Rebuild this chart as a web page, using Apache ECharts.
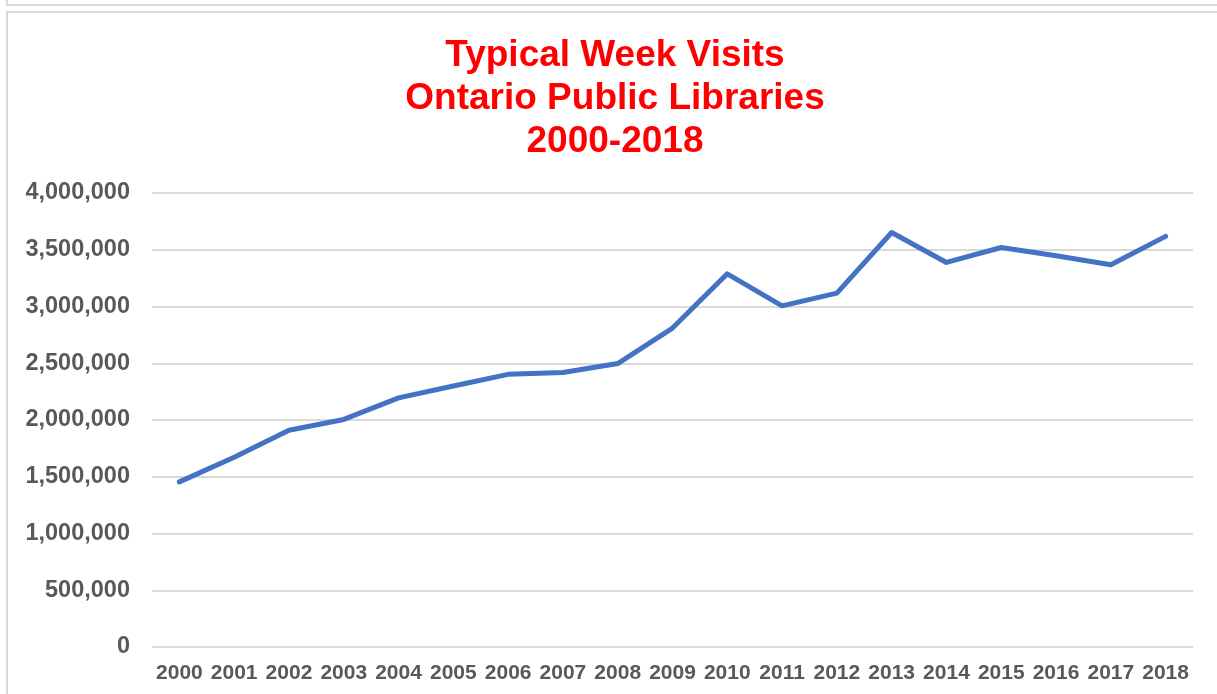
<!DOCTYPE html>
<html>
<head>
<meta charset="utf-8">
<script src="https://cdn.jsdelivr.net/npm/echarts@6/dist/echarts.min.js"></script>
<style>
  html, body { margin:0; padding:0; width:100%; height:100%; overflow:hidden; background:#fff; }
  .frame_top { position:absolute; left:6px; top:-12px; width:1300px; height:14px; border:2px solid #d9d9d9; }
  .frame_main { position:absolute; left:6px; top:11px; width:1300px; height:800px; border:2px solid #d9d9d9; }
  #visits_chart { position:absolute; left:0; top:0; width:1217px; height:694px; }
</style>
</head>
<body>
<div class="frame_top"></div>
<div class="frame_main"></div>
<div id="visits_chart"></div>
<script>
// typical week visits
let years = ['2000','2001','2002','2003','2004','2005','2006','2007','2008','2009',
             '2010','2011','2012','2013','2014','2015','2016','2017','2018'];
let visits = [1455000, 1672000, 1910000, 2005000, 2195000, 2300000, 2402000, 2418000, 2497000, 2810000,
              3288000, 3006000, 3118000, 3652000, 3388000, 3520000, 3447000, 3368000, 3618000];
let yTicks = [0, 500000, 1000000, 1500000, 2000000, 2500000, 3000000, 3500000, 4000000];

const chart = echarts.init(document.getElementById('visits_chart'));

let option = {
  animation: false,
  title: {
    text: 'Typical Week Visits\nOntario Public Libraries\n2000-2018',
    left: 610,
    top: 29,
    textAlign: 'center',
    textStyle: {
      color: '#ff0000',
      fontFamily: 'Liberation Sans, Arial',
      fontWeight: 'bold',
      fontSize: 37,
      lineHeight: 43
    }
  },
  grid: {
    left: 152,
    right: 24,
    top: 193,
    bottom: 47
  },
  xAxis: {
    type: 'category',
    data: years,
    boundaryGap: true,
    axisLine: { show: false },
    axisTick: { show: false },
    axisLabel: {
      color: '#595959',
      fontFamily: 'Liberation Sans, Arial',
      fontWeight: 'bold',
      fontSize: 21,
      margin: 16,
      interval: 0
    }
  },
  yAxis: {
    type: 'value',
    min: yTicks[0],
    max: yTicks[yTicks.length - 1],
    interval: yTicks[1] - yTicks[0],
    axisLine: { show: false },
    axisTick: { show: false },
    axisLabel: {
      color: '#595959',
      fontFamily: 'Liberation Sans, Arial',
      fontWeight: 'bold',
      fontSize: 23.5,
      margin: 22,
      formatter: function (v) {
        return v.toString().replace(/\B(?=(\d{3})+(?!\d))/g, ',');
      }
    },
    splitLine: {
      show: true,
      lineStyle: { color: '#d9d9d9', width: 2 }
    }
  },
  series: [
    {
      name: 'Visits',
      type: 'line',
      data: visits,
      showSymbol: false,
      symbol: 'none',
      lineStyle: {
        color: '#4472c4',
        width: 5,
        cap: 'round',
        join: 'round'
      }
    }
  ]
};

chart.setOption(option);
</script>
</body>
</html>
